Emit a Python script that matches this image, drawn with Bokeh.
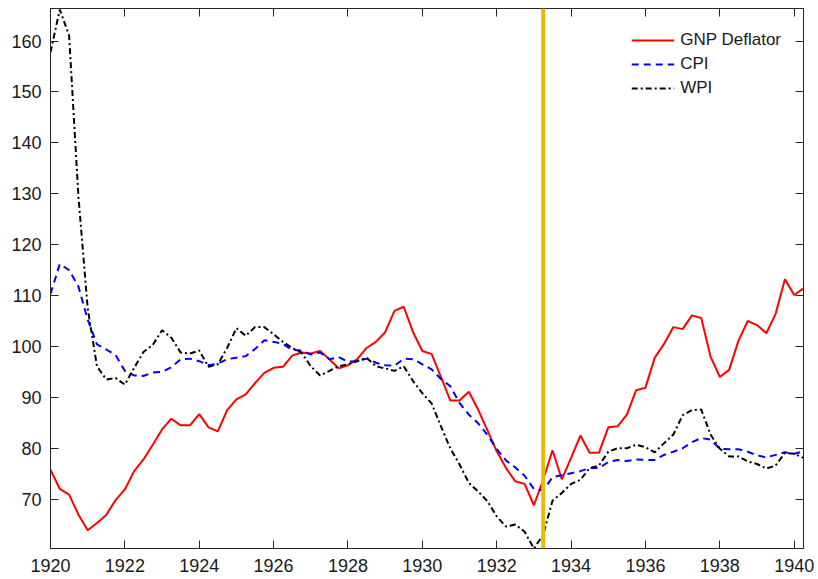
from bokeh.plotting import figure
from bokeh.models import Span, LinearAxis, Range1d, FixedTicker, CustomJSTickFormatter
from bokeh.embed import file_html
from bokeh.resources import INLINE

# Quarterly observations, 1920Q1 .. 1940Q2
n_quarters = 82
quarters = [1920 + q / 4 for q in range(n_quarters)]

gnp_deflator = [75.8, 72.0, 70.9, 67.0, 63.9, 65.3, 66.9, 69.8, 71.9, 75.5,
                77.8, 80.7, 83.7, 85.8, 84.5, 84.5, 86.7, 84.1, 83.3, 87.5,
                89.6, 90.6, 92.8, 94.8, 95.8, 96.0, 98.2, 98.8, 98.6, 99.1,
                97.5, 95.7, 96.3, 97.5, 99.7, 100.9, 102.8, 107.0, 107.8, 102.8,
                99.1, 98.5, 94.0, 89.4, 89.4, 91.1, 87.6, 83.5, 79.4, 76.1,
                73.5, 73.0, 68.8, 73.8, 79.6, 73.9, 78.1, 82.5, 79.1, 79.1,
                84.1, 84.3, 86.6, 91.4, 91.9, 97.8, 100.5, 103.8, 103.4, 106.1,
                105.6, 98.0, 94.0, 95.4, 101.1, 105.0, 104.2, 102.6, 106.4, 113.2,
                110.1, 111.4]

cpi = [110.3, 116.2, 115.0, 111.8, 105.3, 100.4, 99.4, 98.3, 95.2, 94.3,
       94.2, 94.9, 95.0, 95.9, 97.5, 97.6, 97.1, 96.3, 96.6, 97.5,
       97.8, 98.1, 99.5, 101.2, 100.9, 100.5, 99.3, 99.2, 98.4, 98.8,
       97.5, 97.9, 97.0, 97.1, 97.6, 96.8, 96.3, 96.2, 97.6, 97.5,
       96.5, 95.5, 93.6, 92.2, 88.9, 86.6, 84.9, 82.6, 79.9, 77.6,
       76.2, 74.6, 72.0, 71.7, 74.3, 74.7, 75.1, 75.5, 76.1, 76.1,
       77.3, 77.7, 77.5, 77.8, 77.7, 77.7, 78.7, 79.3, 80.0, 81.2,
       82.0, 81.7, 79.9, 79.8, 79.8, 79.3, 78.6, 78.2, 78.7, 79.2,
       78.9, 79.4]

wpi = [157.8, 166.2, 161.1, 129.6, 107.5, 96.1, 93.5, 93.8, 92.5, 95.8,
       98.9, 100.3, 103.2, 101.7, 98.8, 98.6, 99.2, 96.0, 96.5, 99.7,
       103.6, 102.1, 103.8, 103.8, 102.4, 100.9, 99.7, 98.8, 96.1, 94.3,
       95.2, 96.1, 96.5, 97.1, 97.8, 96.1, 95.7, 95.2, 96.1, 93.2,
       90.8, 88.8, 84.3, 80.0, 76.8, 73.2, 71.5, 69.6, 66.6, 64.6,
       65.0, 63.6, 60.3, 63.0, 69.7, 71.2, 73.0, 73.8, 76.1, 76.6,
       79.3, 80.0, 80.0, 80.7, 80.2, 79.2, 81.0, 82.7, 86.5, 87.5,
       87.6, 82.7, 79.9, 78.4, 78.4, 77.4, 76.9, 76.0, 76.6, 79.1,
       78.9, 78.1]

event_date = 1933.25
x_ticks = list(range(1920, 1941, 2))
y_ticks = list(range(70, 161, 10))

AX = "#262626"
FONT = "Liberation Sans"

p = figure(width=818, height=579,
           x_range=Range1d(1920, 1940.25), y_range=Range1d(60.3, 166.4),
           output_backend="svg", toolbar_location=None,
           min_border_left=50, min_border_right=15,
           min_border_top=8, min_border_bottom=31)

p.xgrid.visible = False
p.ygrid.visible = False
p.outline_line_color = AX
p.outline_line_width = 1

p.line(quarters, gnp_deflator, line_color="#FF0000", line_width=2, legend_label="GNP Deflator")
p.line(quarters, cpi, line_color="#0000FF", line_width=2, line_dash="7 5", legend_label="CPI")
p.line(quarters, wpi, line_color="#000000", line_width=2, line_dash="6 3 2 3", legend_label="WPI")

p.add_layout(Span(location=event_date, dimension="height", line_color="#E6BE00", line_width=4))

def style(ax):
    ax.axis_line_color = AX
    ax.major_tick_line_color = AX
    ax.major_tick_in = 8
    ax.major_tick_out = 0
    ax.minor_tick_line_color = None
    ax.major_label_text_font = FONT
    ax.major_label_text_font_size = "18px"
    ax.major_label_text_color = "#1a1a1a"

p.xaxis.ticker = FixedTicker(ticks=x_ticks)
p.yaxis.ticker = FixedTicker(ticks=y_ticks)
for ax in p.xaxis + p.yaxis:
    style(ax)
p.xaxis.major_label_standoff = 10
p.yaxis.major_label_standoff = 9

blank = CustomJSTickFormatter(code="return ''")
top = LinearAxis(ticker=FixedTicker(ticks=x_ticks), formatter=blank)
right = LinearAxis(ticker=FixedTicker(ticks=y_ticks), formatter=blank)
for ax in (top, right):
    style(ax)
    ax.major_label_standoff = 0
    ax.major_label_text_font_size = "1px"
p.add_layout(top, "above")
p.add_layout(right, "right")

lg = p.legend[0]
lg.location = "top_right"
lg.border_line_alpha = 0
lg.background_fill_alpha = 0
lg.label_text_font = FONT
lg.label_text_font_size = "17px"
lg.label_text_color = "#1a1a1a"
lg.glyph_width = 43
lg.glyph_height = 20
lg.label_height = 20
lg.spacing = 4
lg.label_standoff = 6
lg.padding = 10
lg.margin = 12

open("out.html", "w").write(file_html(p, INLINE))
